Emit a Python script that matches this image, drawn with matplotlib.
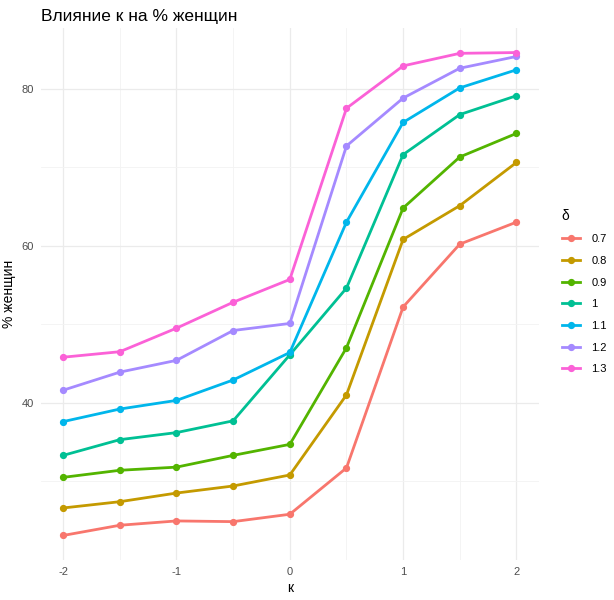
import matplotlib
matplotlib.use("Agg")
import matplotlib.pyplot as plt
from matplotlib.ticker import MultipleLocator

plt.rcParams["font.family"] = ["Liberation Sans", "DejaVu Sans"]
plt.rcParams["axes.unicode_minus"] = False

k_vals = [-2, -1.5, -1, -0.5, 0, 0.5, 1, 1.5, 2]
deltas = ["0.7", "0.8", "0.9", "1", "1.1", "1.2", "1.3"]
pct_07 = [23.1, 24.4, 24.95, 24.86, 25.8, 31.7, 52.2, 60.2, 63.0]
pct_08 = [26.6, 27.4, 28.5, 29.4, 30.8, 41.0, 60.8, 65.1, 70.6]
pct_09 = [30.5, 31.4, 31.8, 33.3, 34.7, 47.0, 64.8, 71.3, 74.3]
pct_10 = [33.3, 35.3, 36.2, 37.7, 46.1, 54.6, 71.6, 76.7, 79.1]
pct_11 = [37.6, 39.2, 40.3, 42.9, 46.4, 63.0, 75.7, 80.1, 82.4]
pct_12 = [41.6, 43.9, 45.4, 49.2, 50.1, 72.7, 78.8, 82.6, 84.1]
pct_13 = [45.8, 46.5, 49.5, 52.8, 55.7, 77.5, 82.9, 84.5, 84.6]
series = [pct_07, pct_08, pct_09, pct_10, pct_11, pct_12, pct_13]

colors = ["#F8766D", "#C49A00", "#53B400", "#00C094",
          "#00B6EB", "#A58AFF", "#FB61D7"]

fig = plt.figure(figsize=(6.14, 6.0), dpi=100)
ax = fig.add_axes([0.066, 0.067, 0.812, 0.886])

for lab, ys, col in zip(deltas, series, colors):
    ax.plot(k_vals, ys, color=col, lw=2.0, marker="o", markersize=4.2,
            label=lab, zorder=3)

ax.set_xlim(-2.2, 2.2)
ax.set_ylim(20.0, 87.7)
ax.set_xticks([-2, -1, 0, 1, 2])
ax.set_yticks([40, 60, 80])
ax.xaxis.set_minor_locator(MultipleLocator(0.5))
ax.set_yticks([30, 50, 70], minor=True)
ax.grid(True, which="major", color="#EBEBEB", lw=0.9, zorder=0)
ax.grid(True, which="minor", color="#F3F3F3", lw=0.6, zorder=0)
for sp in ax.spines.values():
    sp.set_visible(False)
ax.tick_params(which="both", length=0, labelsize=8, labelcolor="#4D4D4D", pad=5)

ax.set_xlabel("к", fontsize=10, labelpad=3)
ax.set_ylabel("% женщин", fontsize=10, labelpad=4)
ax.set_title("Влияние к на % женщин", fontsize=12.5, loc="left", pad=5)

leg = ax.legend(title="δ", loc="center left", bbox_to_anchor=(1.025, 0.505),
                frameon=False, fontsize=8, title_fontsize=10,
                handlelength=1.7, handletextpad=1.0, labelspacing=1.05,
                alignment="left")

fig.savefig("out.png", dpi=100, facecolor="white")
